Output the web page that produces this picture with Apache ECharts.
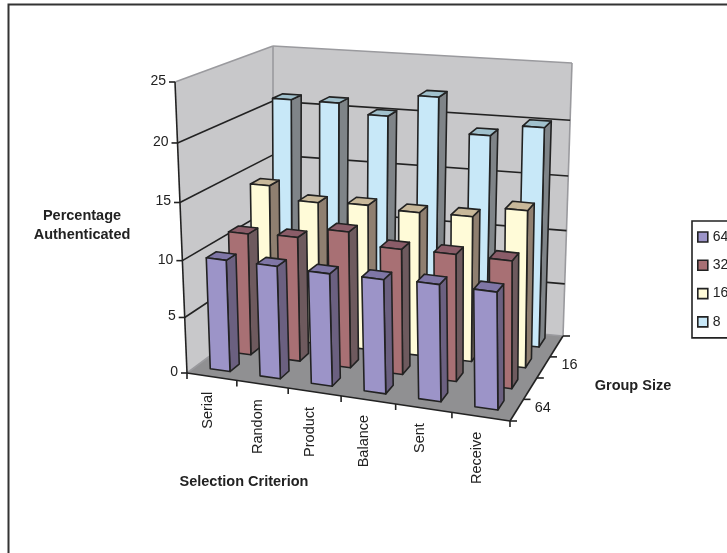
<!DOCTYPE html>
<html>
<head>
<meta charset="utf-8">
<style>html,body{margin:0;padding:0;background:#fff;overflow:hidden}#chart{width:727px;height:553px}</style>
<script src="https://cdn.jsdelivr.net/npm/echarts@6/dist/echarts.min.js"></script>
</head>
<body>
<div id="chart"></div>
<script>
// Authentication rate per selection criterion and group size.
const criteria = ['Serial', 'Random', 'Product', 'Balance', 'Sent', 'Receive'];
const groupSizes = ['64', '32', '16', '8'];
const valueTicks = [0, 5, 10, 15, 20, 25];
const group64 = [9.95, 10, 9.95, 10.05, 10.25, 10.25];
const group32 = [11.05, 11.25, 12.25, 11.25, 11.35, 11.35];
const group16 = [14.2, 13.1, 13.3, 13.1, 13.2, 14.2];
const group8 = [20.9, 20.9, 20.05, 22.05, 19.0, 20.05];

const seriesValues = [group64, group32, group16, group8];
const faceColors = [
  { front: '#9c94c8', top: '#7f76a6', side: '#6b6080' },
  { front: '#a87074', top: '#8a5c68', side: '#6e5a5e' },
  { front: '#fffbd8', top: '#c8b89a', side: '#8f7f70' },
  { front: '#c8e8f8', top: '#a0c0cc', side: '#7f8488' }
];

// Box corners on screen: floor and ceiling quads, in the order
// front-left, front-right, back-right, back-left.
const floorQuad = [[187, 373], [510, 421], [563, 336], [273, 309]];
const ceilQuad = [[175, 82], [507, 120], [572, 63], [273, 46]];

// Foreshortening along the three box directions.
const U_BIAS = 1.096, W_BIAS = 0.976, T_BIAS = 1.06;
const warp = (s, bias) => s / (s + bias * (1 - s));

function quadAt(q, u, w) {
  const out = [0, 0];
  for (let k = 0; k < 2; k++) {
    out[k] = (1 - u) * (1 - w) * q[0][k] + u * (1 - w) * q[1][k] + u * w * q[2][k] + (1 - u) * w * q[3][k];
  }
  return out;
}

// u: across criteria, w: into the depth, t: height as a share of the value axis.
function project(u, w, t) {
  const uu = warp(u, U_BIAS), ww = warp(w, W_BIAS), tt = warp(t, T_BIAS);
  const f = quadAt(floorQuad, uu, ww), c = quadAt(ceilQuad, uu, ww);
  return [f[0] + (c[0] - f[0]) * tt, f[1] + (c[1] - f[1]) * tt];
}

const GRID = { left: 0, top: 0, width: 600, height: 250 };
const BAR_WIDTH = 0.4, BAR_DEPTH = 0.44, BAR_SHIFT_W = 0.028;
const INK = '#222222';
const FONT = '"Liberation Sans", Arial, sans-serif';

function face(points, fill, lineWidth) {
  return {
    type: 'polygon',
    shape: { points },
    style: { fill, stroke: INK, lineWidth: lineWidth === undefined ? 1.6 : lineWidth, lineJoin: 'round' }
  };
}

function barRenderer(slot) {
  return function (params, api) {
    const cat = api.value(0);
    const tip = api.coord([cat, api.value(1)]);
    const band = api.size([1, 0])[0];
    const uc = (tip[0] - GRID.left) / GRID.width;
    const du = (band / GRID.width) * BAR_WIDTH / 2;
    const u0 = uc - du, u1 = uc + du;
    const wc = (slot + 0.5) / groupSizes.length + BAR_SHIFT_W;
    const dw = BAR_DEPTH / groupSizes.length / 2;
    const w0 = wc - dw, w1 = wc + dw;
    const t = (GRID.top + GRID.height - tip[1]) / GRID.height;
    const c = faceColors[slot];
    return {
      type: 'group',
      children: [
        face([project(u1, w0, 0), project(u1, w1, 0), project(u1, w1, t), project(u1, w0, t)], c.side),
        face([project(u0, w0, t), project(u1, w0, t), project(u1, w1, t), project(u0, w1, t)], c.top),
        face([project(u0, w0, 0), project(u1, w0, 0), project(u1, w0, t), project(u0, w0, t)], c.front)
      ]
    };
  };
}

function label(text, x, y, opts) {
  const o = opts || {};
  return {
    type: 'text',
    x, y,
    rotation: o.rotation || 0,
    style: {
      text, x: 0, y: 0,
      fill: INK,
      font: (o.bold ? 'bold ' : '') + (o.size || 14) + 'px ' + FONT,
      align: o.align || 'center',
      verticalAlign: 'middle'
    }
  };
}

function line(a, b, color, width) {
  return {
    type: 'line',
    shape: { x1: a[0], y1: a[1], x2: b[0], y2: b[1] },
    style: { stroke: color || INK, lineWidth: width === undefined ? 1.6 : width }
  };
}

// Walls, floor, gridlines, ticks and every axis label of the box.
function renderBox() {
  const out = [];
  const wallFill = '#c8c8ca', edge = '#9a9a9e';
  out.push(face([project(0, 0, 0), project(0, 1, 0), project(0, 1, 1), project(0, 0, 1)], wallFill, 0));
  out.push(face([project(0, 1, 0), project(1, 1, 0), project(1, 1, 1), project(0, 1, 1)], wallFill, 0));
  out.push(face([project(0, 0, 0), project(1, 0, 0), project(1, 1, 0), project(0, 1, 0)], '#909092', 0));
  out.push(line(project(0, 0, 1), project(0, 1, 1), edge));
  out.push(line(project(0, 1, 1), project(1, 1, 1), edge));
  out.push(line(project(0, 1, 1), project(0, 1, 0), edge));
  out.push(line(project(1, 1, 1), project(1, 1, 0), edge));
  out.push(line(project(0, 0, 0), project(0, 1, 0), edge));
  out.push(line(project(0, 1, 0), project(1, 1, 0), edge));

  const top = valueTicks[valueTicks.length - 1];
  valueTicks.forEach((v) => {
    const t = v / top;
    const a = project(0, 0, t), b = project(0, 1, t), c = project(1, 1, t);
    if (v > 0 && v < top) {
      out.push(line(a, b));
      out.push(line(b, c));
    }
    out.push(line([a[0] - 6, a[1]], a));
    out.push(label(String(v), a[0] - 9, a[1] - 1, { align: 'right' }));
  });

  out.push(line(project(0, 0, 1), project(0, 0, 0)));
  out.push(line(project(0, 0, 0), project(1, 0, 0)));
  out.push(line(project(1, 0, 0), project(1, 1, 0)));

  const nCat = criteria.length;
  for (let i = 0; i <= nCat; i++) {
    const p = project(i / nCat, 0, 0);
    out.push(line(p, [p[0], p[1] + 6]));
  }
  criteria.forEach((name, i) => {
    const p = project((i + 0.5) / nCat, 0, 0);
    out.push(label(name, p[0] - 4, p[1] + 15, { rotation: Math.PI / 2, align: 'right', size: 14.5 }));
  });

  const nDepth = groupSizes.length;
  for (let i = 0; i <= nDepth; i++) {
    const p = project(1, i / nDepth, 0);
    out.push(line(p, [p[0] + 7, p[1]]));
  }
  groupSizes.forEach((name, i) => {
    if (i % 2 === 0) {
      const p = project(1, (i + 0.5) / nDepth, 0);
      out.push(label(name, p[0] + 18, p[1] - 2, { align: 'left', size: 14.5 }));
    }
  });

  out.push(label('Percentage', 82, 216, { bold: true, size: 14.5 }));
  out.push(label('Authenticated', 82, 235, { bold: true, size: 14.5 }));
  out.push(label('Selection Criterion', 244, 482, { bold: true, size: 14.5 }));
  out.push(label('Group Size', 633, 386, { bold: true, size: 14.5 }));
  return { type: 'group', children: out };
}

const series = [{
  type: 'custom',
  name: 'box',
  coordinateSystem: 'cartesian2d',
  silent: true,
  z: 1,
  clip: false,
  renderItem: renderBox,
  data: [[0, 0]]
}];
// Farthest row is painted first so nearer bars cover it.
groupSizes.forEach((name, slot) => {
  series.push({
    type: 'custom',
    name,
    coordinateSystem: 'cartesian2d',
    z: 10 - slot,
    clip: false,
    silent: true,
    encode: { x: 0, y: 1 },
    itemStyle: { color: faceColors[slot].front },
    renderItem: barRenderer(slot),
    data: seriesValues[slot].map((v, i) => [i, v])
  });
});

const chart = echarts.init(document.getElementById('chart'), null, { renderer: 'canvas' });
chart.setOption({
  animation: false,
  backgroundColor: '#ffffff',
  grid: Object.assign({ containLabel: false, show: false }, GRID),
  xAxis: { type: 'category', data: criteria, show: false },
  yAxis: { type: 'value', min: 0, max: valueTicks[valueTicks.length - 1], interval: 5, show: false },
  legend: {
    orient: 'vertical',
    left: 692,
    top: 221,
    width: 60,
    padding: [9, 20, 9, 5],
    itemGap: 14.3,
    itemWidth: 10,
    itemHeight: 10,
    borderColor: INK,
    borderWidth: 1.6,
    backgroundColor: '#ffffff',
    selectedMode: false,
    textStyle: { color: INK, fontFamily: FONT, fontSize: 14 },
    data: groupSizes.map((name, slot) => ({
      name,
      icon: 'rect',
      itemStyle: { color: faceColors[slot].front, borderColor: INK, borderWidth: 1.6 }
    }))
  },
  graphic: [{
    type: 'polyline',
    silent: true,
    shape: { points: [[8.5, 553], [8.5, 4.5], [727, 4.5]] },
    style: { fill: 'none', stroke: '#333333', lineWidth: 2 },
    z: 0
  }],
  series
});
</script>
</body>
</html>
